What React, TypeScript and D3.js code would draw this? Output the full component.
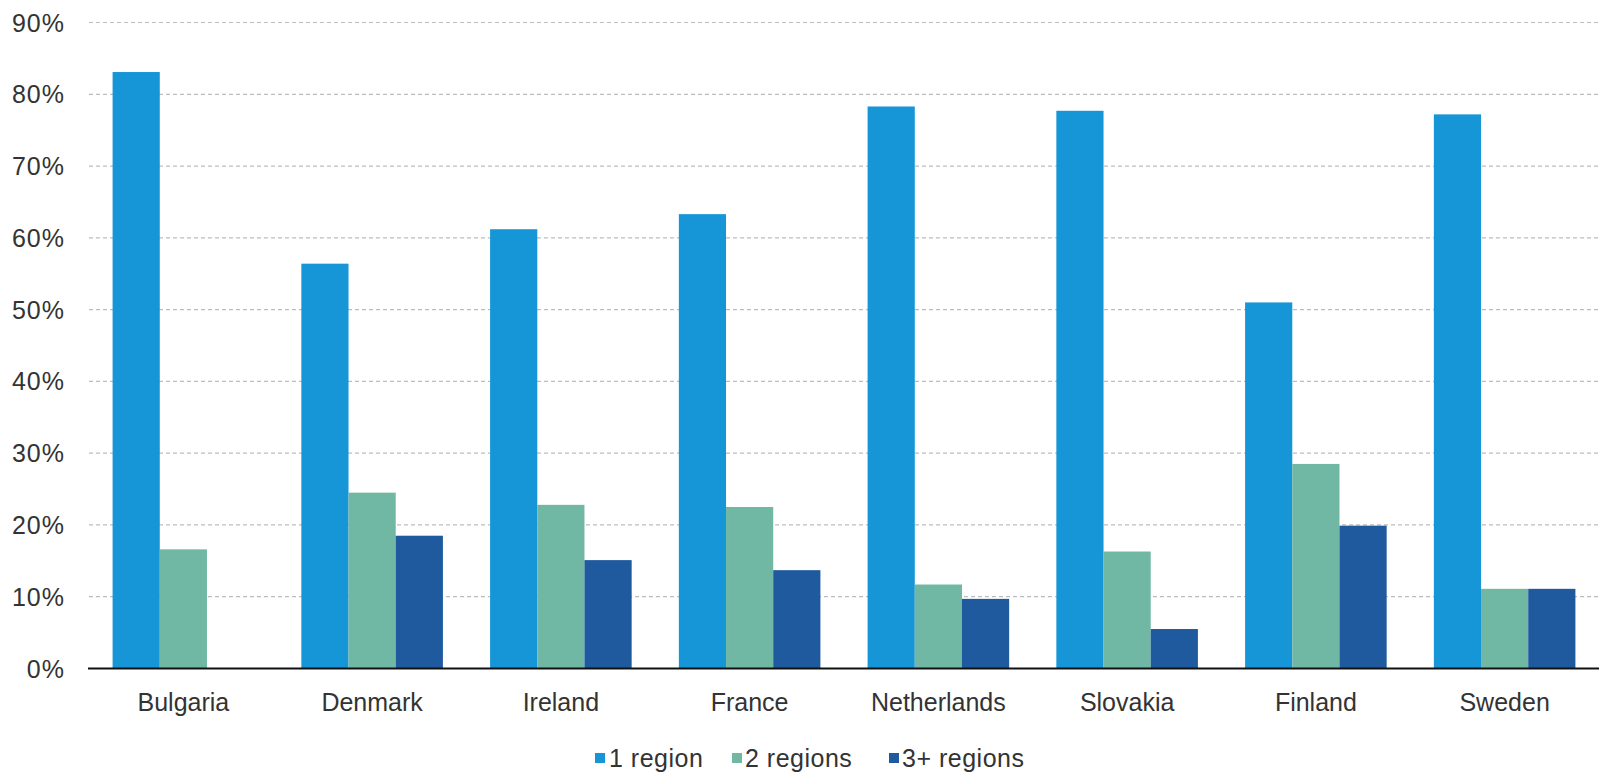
import React from "react";
import * as d3 from "d3";

const categories = ["Bulgaria", "Denmark", "Ireland", "France", "Netherlands", "Slovakia", "Finland", "Sweden"];
const seriesNames = ["1 region", "2 regions", "3+ regions"];
const oneRegion = [83.1, 56.4, 61.2, 63.3, 78.3, 77.7, 51.0, 77.2];
const twoRegions = [16.6, 24.5, 22.8, 22.5, 11.7, 16.3, 28.5, 11.1];
const threePlusRegions = [0, 18.5, 15.1, 13.7, 9.7, 5.5, 19.9, 11.1];
const yTicks = [0, 10, 20, 30, 40, 50, 60, 70, 80, 90];
const colors = ["#1696D6", "#70B8A4", "#1F5A9F"];

const W = 1600;
const H = 772;
const left = 89;
const right = 1599;
const top = 22.5;
const bottom = 668.5;
const FONT = "'Liberation Sans', Arial, sans-serif";

export default function App() {
  const series = [oneRegion, twoRegions, threePlusRegions];
  const x = d3.scaleBand<string>().domain(categories).range([left, right]).paddingInner(0.25).paddingOuter(0.125);
  const x1 = d3.scaleBand<number>().domain([0, 1, 2]).range([0, x.bandwidth()]).padding(0);
  const y = d3.scaleLinear().domain([0, 90]).range([bottom, top]);

  const legendItems = [
    { sq: 595, tx: 609 },
    { sq: 732, tx: 745 },
    { sq: 889, tx: 902 },
  ];
  const legendY = 758;

  return (
    <svg width={W} height={H} style={{ position: "absolute", left: 0, top: 0, background: "#fff" }} fontFamily={FONT}>
      <rect x={0} y={0} width={W} height={H} fill="#fff" />
      {yTicks.filter((t) => t > 0).map((t) => (
        <line key={"g" + t} x1={left} x2={right} y1={y(t)} y2={y(t)} stroke="#BDBDBD" strokeWidth={1.2} strokeDasharray="4,3" />
      ))}
      {yTicks.map((t) => (
        <text key={"t" + t} x={65} y={y(t)} dy="0.36em" textAnchor="end" fontSize={25} fill="#333" letterSpacing={1}>
          {t + "%"}
        </text>
      ))}
      {categories.map((c, i) => (
        <g key={c}>
          {series.map((s, k) =>
            s[i] > 0 ? (
              <rect
                key={k}
                x={(x(c) as number) + (x1(k) as number)}
                y={y(s[i])}
                width={x1.bandwidth()}
                height={bottom - y(s[i])}
                fill={colors[k]}
              />
            ) : null
          )}
          <text x={(x(c) as number) + x.bandwidth() / 2} y={711} textAnchor="middle" fontSize={25} fill="#333">
            {c}
          </text>
        </g>
      ))}
      <line x1={left - 1} x2={right} y1={bottom} y2={bottom} stroke="#111" strokeWidth={2} />
      {seriesNames.map((n, k) => (
        <g key={n}>
          <rect x={legendItems[k].sq} y={legendY - 5} width={10} height={10} fill={colors[k]} />
          <text x={legendItems[k].tx} y={legendY} dy="0.36em" fontSize={25} fill="#333" letterSpacing={0.5}>
            {n}
          </text>
        </g>
      ))}
    </svg>
  );
}
